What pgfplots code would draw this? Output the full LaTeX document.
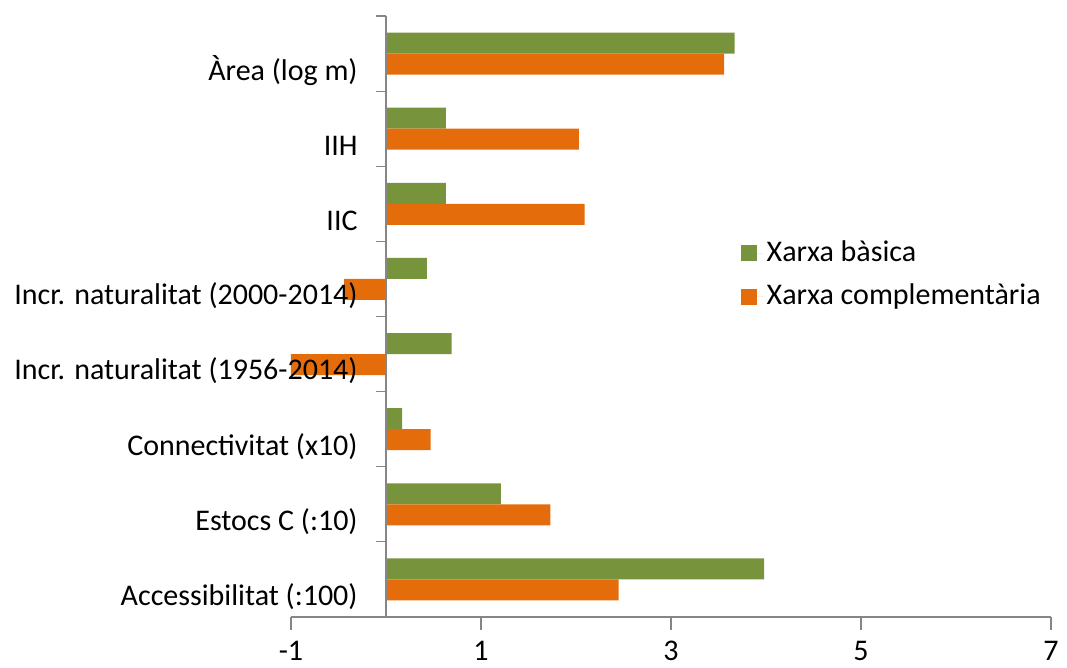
\documentclass[border=0pt]{standalone}
\usepackage{fontspec}
\setmainfont{Carlito}
\usepackage{pgfplots}
\pgfplotsset{compat=1.18}
\definecolor{cgreen}{HTML}{77933C}
\definecolor{corange}{HTML}{E46C0A}
\definecolor{caxis}{HTML}{868686}
\begin{document}
\fontsize{15}{18}\selectfont
\begin{tikzpicture}
\useasboundingbox (-145.5pt,-25.5pt) rectangle (388pt,308.5pt);
\begin{axis}[
  scale only axis,
  axis on top,
  width=380pt, height=300.5pt,
  xbar, bar width=10.5pt,
  xmin=-1, xmax=7, ymin=-0.5, ymax=7.5,
  axis x line*=bottom,
  axis y line*=middle,
  axis line style={caxis, line width=0.6pt},
  every axis plot/.append style={draw=none},
  xtick={-1,1,3,5,7},
  xticklabels={{-1},1,3,5,7},
  x tick label style={font=\fontsize{15}{18}\selectfont, yshift=-0.5pt},
  major x tick style={caxis, line width=0.6pt},
  ytick={0,...,7},
  yticklabels={Accessibilitat (:100),Estocs C (:10),Connectivitat (x10),Incr. naturalitat (1956-2014),Incr. naturalitat (2000-2014),IIC,IIH,Àrea (log m)},
  y tick label style={font=\fontsize{15}{18}\selectfont, anchor=east, yshift=-8.5pt, xshift=-2.5pt},
  major y tick style={draw=none},
  minor ytick={-0.5,0.5,...,7.5},
  minor y tick style={caxis, line width=0.6pt},
  tick align=outside,
  major tick length=6.5pt,
  minor tick length=5pt,
  legend style={draw=none, fill=none, at={(axis cs:3.73,4.57)}, anchor=north west,
    font=\fontsize{15}{18}\selectfont, row sep=5pt, inner sep=0pt},
  legend cell align=left,
  legend image code/.code={\fill[#1] (0pt,-4pt) rectangle (8pt,4pt); \path (0pt,0pt) -- (11pt,0pt);},
  clip=false,
]
\addplot[fill=cgreen, bar shift=5.25pt] coordinates {
 (3.98,0) (1.21,1) (0.17,2) (0.69,3) (0.43,4) (0.63,5) (0.63,6) (3.67,7)};
\addplot[fill=corange, bar shift=-5.25pt] coordinates {
 (2.45,0) (1.73,1) (0.47,2) (-1.0,3) (-0.44,4) (2.09,5) (2.03,6) (3.56,7)};
\legend{Xarxa bàsica, Xarxa complementària}
\end{axis}
\end{tikzpicture}
\end{document}
